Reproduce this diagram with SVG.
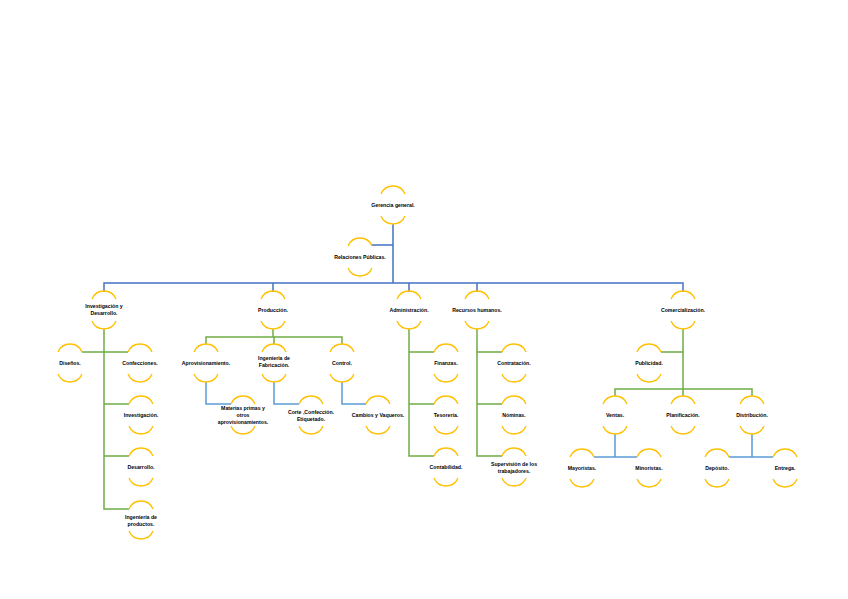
<svg xmlns="http://www.w3.org/2000/svg" xmlns:xlink="http://www.w3.org/1999/xlink" width="848" height="599" viewBox="0 0 848 599">
<style>
.arc{fill:none;stroke:#FFC000;stroke-width:1.3}
.t{font-family:"Liberation Sans",Arial,sans-serif;font-weight:bold;font-size:5.2px;text-anchor:middle;fill:#000}
.b1{fill:none;stroke:#4472C4;stroke-width:1.5}
.b2{fill:none;stroke:#5B9BD5;stroke-width:1.5}
.g{fill:none;stroke:#70AD47;stroke-width:1.5}
</style>
<defs>
<path id="na" class="arc" d="M-12,-11 A13 13 0 0 1 12,-11 M-12,11 A13 13 0 0 0 12,11"/>
</defs>
<rect width="848" height="599" fill="#fff"/>
<g id="connectors">
<path class="b1" d="M393,224 V283 M371,245 H393 M104,292 V283 H683 V292 M273,283 V292 M409,283 V292 M477,283 V292"/>
<path class="g" d="M104,329 V509 H129 M82,352 H128 M104,404 H129 M104,456 H129"/>
<path class="g" d="M273,329 V337 M206,344 V337 H342 V344 M274,337 V344"/>
<path class="g" d="M409,329 V456 H434 M409,352 H434 M409,404 H434"/>
<path class="g" d="M477,329 V456 H502 M477,352 H502 M477,404 H502"/>
<path class="g" d="M683,329 V389 M661,352 H683 M615,396 V389 H752 V396 M683,389 V396"/>
<path class="b2" d="M206,382 V404 H231 M274,382 V404 H299 M342,382 V404 H366"/>
<path class="b2" d="M615,434 V457 M594,457 H637 M752,434 V457 M729,457 H773"/>
</g>
<g id="n-gerencia" transform="translate(393,205)"><use href="#na"/><text class="t" y="2">Gerencia general.</text></g>
<g id="n-relaciones" transform="translate(360,257)"><use href="#na"/><text class="t" y="2">Relaciones Públicas.</text></g>
<g id="n-id" transform="translate(104,310)"><use href="#na"/><text class="t" y="-2"><tspan x="0">Investigación y</tspan><tspan x="0" dy="7">Desarrollo.</tspan></text></g>
<g id="n-produccion" transform="translate(273,310)"><use href="#na"/><text class="t" y="2">Producción.</text></g>
<g id="n-admin" transform="translate(409,310)"><use href="#na"/><text class="t" y="2">Administración.</text></g>
<g id="n-rh" transform="translate(477,310)"><use href="#na"/><text class="t" y="2">Recursos humanos.</text></g>
<g id="n-comerc" transform="translate(683,310)"><use href="#na"/><text class="t" y="2">Comercialización.</text></g>
<g id="n-disenos" transform="translate(70,363)"><use href="#na"/><text class="t" y="2">Diseños.</text></g>
<g id="n-confecciones" transform="translate(140,363)"><use href="#na"/><text class="t" y="2">Confecciones.</text></g>
<g id="n-investigacion" transform="translate(141,415)"><use href="#na"/><text class="t" y="2">Investigación.</text></g>
<g id="n-desarrollo" transform="translate(141,467)"><use href="#na"/><text class="t" y="2">Desarrollo.</text></g>
<g id="n-ingprod" transform="translate(141,520)"><use href="#na"/><text class="t" y="-1"><tspan x="0">Ingeniería de</tspan><tspan x="0" dy="7">productos.</tspan></text></g>
<g id="n-aprov" transform="translate(206,363)"><use href="#na"/><text class="t" y="2">Aprovisionamiento.</text></g>
<g id="n-ingfab" transform="translate(274,363)"><use href="#na"/><text class="t" y="-3"><tspan x="0">Ingeniería de</tspan><tspan x="0" dy="7">Fabricación.</tspan></text></g>
<g id="n-control" transform="translate(342,363)"><use href="#na"/><text class="t" y="2">Control.</text></g>
<g id="n-materias" transform="translate(243,415)"><use href="#na"/><text class="t" y="-5"><tspan x="0">Materias primas y</tspan><tspan x="0" dy="7">otros</tspan><tspan x="0" dy="7">aprovisionamientos.</tspan></text></g>
<g id="n-corte" transform="translate(311,415)"><use href="#na"/><text class="t" y="-1"><tspan x="0">Corte ,Confección.</tspan><tspan x="0" dy="7">Etiquetado.</tspan></text></g>
<g id="n-cambios" transform="translate(378,415)"><use href="#na"/><text class="t" y="2">Cambios y Vaqueros.</text></g>
<g id="n-finanzas" transform="translate(446,363)"><use href="#na"/><text class="t" y="2">Finanzas.</text></g>
<g id="n-tesoreria" transform="translate(446,415)"><use href="#na"/><text class="t" y="2">Tesorería.</text></g>
<g id="n-contabilidad" transform="translate(446,467)"><use href="#na"/><text class="t" y="2">Contabilidad.</text></g>
<g id="n-contratacion" transform="translate(514,363)"><use href="#na"/><text class="t" y="2">Contratación.</text></g>
<g id="n-nominas" transform="translate(514,415)"><use href="#na"/><text class="t" y="2">Nóminas.</text></g>
<g id="n-supervision" transform="translate(514,467)"><use href="#na"/><text class="t" y="-1"><tspan x="0">Supervisión de los</tspan><tspan x="0" dy="7">trabajadores.</tspan></text></g>
<g id="n-publicidad" transform="translate(649,363)"><use href="#na"/><text class="t" y="2">Publicidad.</text></g>
<g id="n-ventas" transform="translate(615,415)"><use href="#na"/><text class="t" y="2">Ventas.</text></g>
<g id="n-planificacion" transform="translate(683,415)"><use href="#na"/><text class="t" y="2">Planificación.</text></g>
<g id="n-distribucion" transform="translate(752,415)"><use href="#na"/><text class="t" y="2">Distribución.</text></g>
<g id="n-mayoristas" transform="translate(582,468)"><use href="#na"/><text class="t" y="2">Mayoristas.</text></g>
<g id="n-minoristas" transform="translate(649,468)"><use href="#na"/><text class="t" y="2">Minoristas.</text></g>
<g id="n-deposito" transform="translate(717,468)"><use href="#na"/><text class="t" y="2">Depósito.</text></g>
<g id="n-entrega" transform="translate(785,468)"><use href="#na"/><text class="t" y="2">Entrega.</text></g>
</svg>
